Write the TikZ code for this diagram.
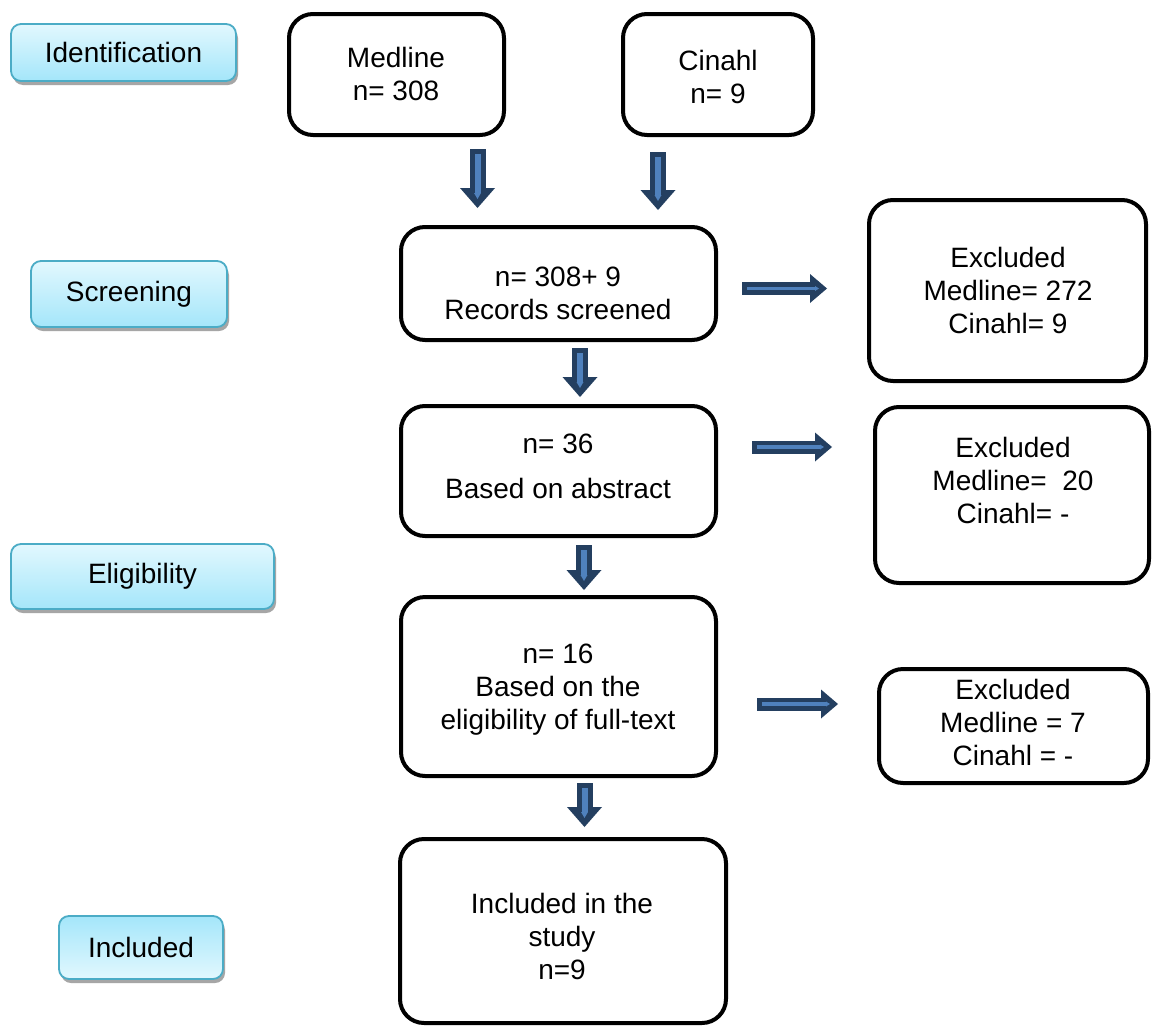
\documentclass[tikz,border=0pt]{standalone}
\usepackage{fontspec}
\setmainfont{Liberation Sans}
\usetikzlibrary{arrows.meta,shadows}
\definecolor{arrdark}{HTML}{243F60}
\definecolor{arrlight}{HTML}{4F81BD}
\definecolor{tabedge}{HTML}{4BACC6}
\definecolor{tabtop}{HTML}{E2F8FE}
\definecolor{tabbot}{HTML}{A4E6FA}
\tikzset{
  flowbox/.style={draw=black, line width=4pt, rounded corners=24pt, fill=white, inner sep=0pt},
  boxtext/.style={align=center, font=\fontsize{28}{33}\selectfont, inner sep=0pt},
  tab/.style={draw=tabedge, line width=1.8pt, rounded corners=10pt, inner sep=0pt,
    font=\fontsize{28}{33}\selectfont,
    drop shadow={shadow xshift=2pt, shadow yshift=-4pt, fill=black!35, opacity=1}},
  tabdown/.style={tab, top color=tabtop, bottom color=tabbot},
  tabup/.style={tab, top color=tabbot, bottom color=tabtop},
  vdark/.style={arrdark, line width=16pt, -{Triangle[width=35pt,length=20pt,line width=0pt]}},
  vlight/.style={arrlight, line width=6pt, shorten <=5pt, shorten >=9pt, -{Triangle[width=7pt,length=6pt,line width=0pt]}},
  hdark/.style={arrdark, line width=13pt, -{Triangle[width=29pt,length=17pt,line width=0pt]}},
  hlight/.style={arrlight, line width=3.5pt, shorten <=5pt, shorten >=8pt, -{Triangle[width=5pt,length=4pt,line width=0pt]}},
}
\newcommand\blockarrow[3]{\draw[#1dark] (#2) -- (#3); \draw[#1light] (#2) -- (#3);}
\begin{document}
\begin{tikzpicture}[x=1pt, y=-1pt]
\useasboundingbox[fill=white] (0,0) rectangle (1154,1028);

% left stage tabs
\node[tabdown, minimum width=225pt, minimum height=57pt] (ident) at (123.5,52.5) {Identification};
\node[tabdown, minimum width=196pt, minimum height=66pt] (screen) at (129,294) {Screening};
\node[tabdown, minimum width=263pt, minimum height=65pt] (elig) at (142.5,576.5) {Eligibility};
\node[tabup, minimum width=164pt, minimum height=63pt] (incl) at (141,947.5) {Included};

% flow boxes
\node[flowbox, minimum width=215pt, minimum height=121pt] (medline) at (396.5,74.5) {};
\node[boxtext] (medlinet) at (396,74) {\fontsize{28}{30}\selectfont Medline\\n= 308};
\node[flowbox, minimum width=190pt, minimum height=121pt] (cinahl) at (718,74.5) {};
\node[boxtext] (cinahlt) at (718,77) {\fontsize{28}{30}\selectfont Cinahl\\n= 9};

\node[flowbox, minimum width=315pt, minimum height=113pt] (rec) at (558.5,283.5) {};
\node[boxtext] (rect) at (558,293) {\fontsize{28}{31}\selectfont n= 308+ 9\\Records screened};

\node[flowbox, minimum width=277pt, minimum height=181pt] (ex1) at (1007.5,290.5) {};
\node[boxtext] (ex1t) at (1008,290) {\fontsize{28}{31}\selectfont Excluded\\Medline= 272\\Cinahl= 9};

\node[flowbox, minimum width=315pt, minimum height=130pt] (abs) at (558.5,471) {};
\node[boxtext] (abst) at (558,466) {n= 36\\[12pt]Based on abstract};

\node[flowbox, minimum width=274pt, minimum height=176pt] (ex2) at (1012,495) {};
\node[boxtext] (ex2t) at (1013,480) {\fontsize{28}{34}\selectfont Excluded\\Medline=\ \ 20\\Cinahl= -};

\node[flowbox, minimum width=315pt, minimum height=179pt] (full) at (558.5,686.5) {};
\node[boxtext] (fullt) at (558,690) {n= 16\\Based on the\\eligibility of full-text};

\node[flowbox, minimum width=269pt, minimum height=114pt] (ex3) at (1013.5,726) {};
\node[boxtext] (ex3t) at (1013,722) {\fontsize{28}{31}\selectfont Excluded\\Medline = 7\\Cinahl = -};

\node[flowbox, minimum width=326pt, minimum height=184pt] (study) at (563,931) {};
\node[boxtext] (studyt) at (562,936) {\fontsize{28}{34}\selectfont Included in the\\study\\n=9};

% arrow end points
\coordinate (a1s) at (477.5,149); \coordinate (a1e) at (477.5,208);
\coordinate (a2s) at (658,152);   \coordinate (a2e) at (658,210);
\coordinate (a3s) at (580,348);   \coordinate (a3e) at (580,397);
\coordinate (a4s) at (584,545);   \coordinate (a4e) at (584,590);
\coordinate (a5s) at (584.5,783); \coordinate (a5e) at (584.5,827);
\coordinate (h1s) at (742,288.5); \coordinate (h1e) at (827,288.5);
\coordinate (h2s) at (752,447);   \coordinate (h2e) at (832,447);
\coordinate (h3s) at (757,704);   \coordinate (h3e) at (838,704);

\blockarrow{v}{a1s}{a1e}
\blockarrow{v}{a2s}{a2e}
\blockarrow{v}{a3s}{a3e}
\blockarrow{v}{a4s}{a4e}
\blockarrow{v}{a5s}{a5e}
\blockarrow{h}{h1s}{h1e}
\blockarrow{h}{h2s}{h2e}
\blockarrow{h}{h3s}{h3e}
\end{tikzpicture}
\end{document}
